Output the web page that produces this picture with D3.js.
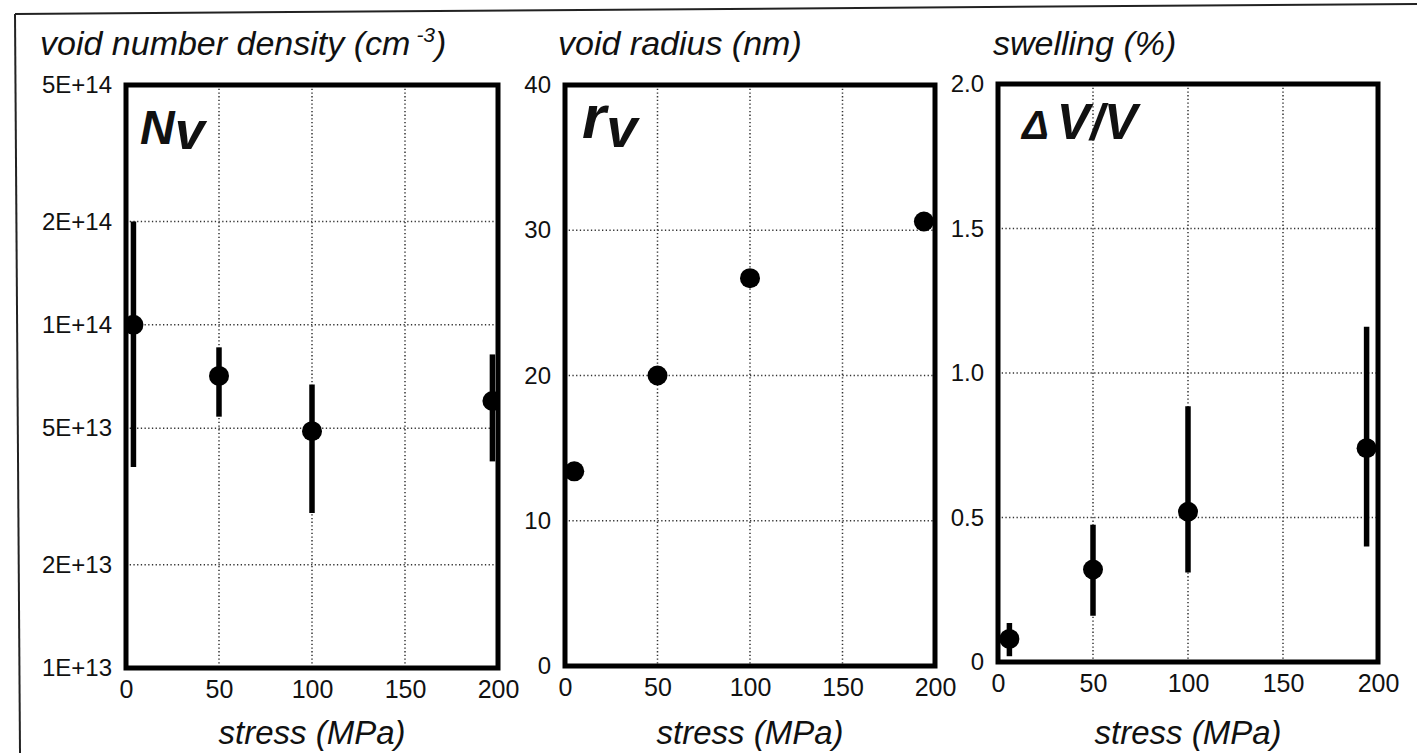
<!DOCTYPE html>
<html><head><meta charset="utf-8">
<script src="https://cdn.jsdelivr.net/npm/d3@7"></script>
<style>
body{margin:0;background:#fff}
svg text{font-family:"Liberation Sans",Arial,Helvetica,sans-serif;fill:#111}
</style>
</head><body><svg id="c" width="1417" height="753"></svg>
<script>
// ---- data ----
const stressTicks = [0, 50, 100, 150, 200];
const stressGrid = [50, 100, 150];

const nvStress = [4, 50, 100, 197];
const nvValue  = [1.0e14, 7.1e13, 4.9e13, 6.0e13];
const nvLow    = [3.85e13, 5.4e13, 2.83e13, 4.0e13];
const nvHigh   = [2.0e14, 8.6e13, 6.7e13, 8.2e13];
const nvTicks  = [1e13, 2e13, 5e13, 1e14, 2e14, 5e14];
const nvTickLabels = ["1E+13", "2E+13", "5E+13", "1E+14", "2E+14", "5E+14"];
const nvGrid   = [2e13, 5e13, 1e14, 2e14];

const rvStress = [5, 50, 100, 194];
const rvValue  = [13.4, 20.0, 26.7, 30.6];
const rvTicks  = [0, 10, 20, 30, 40];
const rvTickLabels = ["0", "10", "20", "30", "40"];
const rvGrid   = [10, 20, 30];

const swStress = [6, 50, 100, 194];
const swValue  = [0.08, 0.32, 0.52, 0.74];
const swLow    = [0.02, 0.16, 0.31, 0.40];
const swHigh   = [0.135, 0.475, 0.885, 1.16];
const swTicks  = [0, 0.5, 1.0, 1.5, 2.0];
const swTickLabels = ["0", "0.5", "1.0", "1.5", "2.0"];
const swGrid   = [0.5, 1.0, 1.5];

const titles = ["void number density (cm", "void radius (nm)", "swelling (%)"];
const xTitle = "stress (MPa)";

// ---- drawing ----
const svg = d3.select("#c");
const FONT = '"Liberation Sans",Arial,Helvetica,sans-serif';

// scanned outer frame (left and top edges)
svg.append("path").attr("d", "M15,14 L1417,4").attr("stroke", "#222").attr("stroke-width", 2).attr("fill", "none");
svg.append("path").attr("d", "M15,14 L20,753").attr("stroke", "#222").attr("stroke-width", 2).attr("fill", "none");

function panel(cfg, idx) {
  const g = svg.append("g");
  const x = d3.scaleLinear().domain([0, 200]).range([cfg.x0, cfg.x1]);
  const y = cfg.y;

  // grid
  g.selectAll(".vg").data(stressGrid).join("line")
    .attr("x1", d => x(d)).attr("x2", d => x(d))
    .attr("y1", cfg.y0).attr("y2", cfg.y1)
    .attr("stroke", "#333").attr("stroke-width", 1.5).attr("stroke-dasharray", "1.3,2.4");
  g.selectAll(".hg").data(cfg.grid).join("line")
    .attr("x1", cfg.x0).attr("x2", cfg.x1)
    .attr("y1", d => y(d)).attr("y2", d => y(d))
    .attr("stroke", "#333").attr("stroke-width", 1.5).attr("stroke-dasharray", "1.3,2.4");

  // clipped marks
  const clipId = "clip" + idx;
  svg.append("clipPath").attr("id", clipId).append("rect")
    .attr("x", cfg.x0).attr("y", cfg.y0).attr("width", cfg.x1 - cfg.x0).attr("height", cfg.y1 - cfg.y0);
  const m = g.append("g").attr("clip-path", `url(#${clipId})`);
  const pts = cfg.xs.map((s, i) => ({s, v: cfg.v[i], lo: cfg.lo ? cfg.lo[i] : null, hi: cfg.hi ? cfg.hi[i] : null}));
  if (cfg.lo) {
    m.selectAll(".eb").data(pts).join("line")
      .attr("x1", d => x(d.s)).attr("x2", d => x(d.s))
      .attr("y1", d => y(d.lo)).attr("y2", d => y(d.hi))
      .attr("stroke", "#000").attr("stroke-width", 5.5);
  }
  m.selectAll(".pt").data(pts).join("circle")
    .attr("cx", d => x(d.s)).attr("cy", d => y(d.v)).attr("r", 10).attr("fill", "#000");

  // frame
  g.append("rect").attr("x", cfg.x0).attr("y", cfg.y0)
    .attr("width", cfg.x1 - cfg.x0).attr("height", cfg.y1 - cfg.y0)
    .attr("fill", "none").attr("stroke", "#000").attr("stroke-width", 5);

  // axes (labels only)
  const ax = g.append("g").attr("transform", `translate(0,${cfg.y1})`)
    .call(d3.axisBottom(x).tickValues(stressTicks).tickSize(0).tickPadding(12).tickFormat(d3.format("d")));
  ax.select(".domain").remove();
  ax.attr("font-family", FONT).attr("font-size", 25);
  ax.selectAll("text").attr("fill", "#000");

  const ay = g.append("g").attr("transform", `translate(${cfg.x0},0)`)
    .call(d3.axisLeft(y).tickValues(cfg.ticks).tickSize(0).tickPadding(14)
      .tickFormat((d, i) => cfg.tickLabels[i]));
  ay.select(".domain").remove();
  ay.attr("font-family", FONT).attr("font-size", 24);
  ay.selectAll("text").attr("fill", "#000");

  // titles
  const t = g.append("text").attr("x", cfg.tx).attr("y", 55)
    .attr("font-size", 34).attr("font-style", "italic").text(titles[idx]);
  if (idx === 0) {
    t.append("tspan").attr("dx", 6).attr("dy", -13).attr("font-size", 21).text("-3");
    t.append("tspan").attr("dy", 13).text(")");
  }
  g.append("text").attr("x", (cfg.x0 + cfg.x1) / 2).attr("y", 744)
    .attr("text-anchor", "middle").attr("font-size", 33).attr("font-style", "italic").text(xTitle);

  cfg.symbol(g);
}

const p1 = {x0: 126, x1: 498, y0: 85, y1: 668, tx: 40,
  y: d3.scaleLog().domain([1e13, 5e14]).range([668, 85]),
  xs: nvStress, v: nvValue, lo: nvLow, hi: nvHigh, ticks: nvTicks, tickLabels: nvTickLabels, grid: nvGrid,
  symbol: g => {
    const t = g.append("text").attr("x", 140).attr("y", 144).attr("font-weight", "bold").attr("font-style", "italic");
    t.append("tspan").attr("font-size", 48).text("N");
    t.append("tspan").attr("font-size", 54).attr("dy", 5).text("v");
  }};
const p2 = {x0: 565, x1: 935, y0: 85, y1: 666, tx: 558,
  y: d3.scaleLinear().domain([0, 40]).range([666, 85]),
  xs: rvStress, v: rvValue, ticks: rvTicks, tickLabels: rvTickLabels, grid: rvGrid,
  symbol: g => {
    const t = g.append("text").attr("x", 582).attr("y", 138).attr("font-weight", "bold").attr("font-style", "italic");
    t.append("tspan").attr("font-size", 62).text("r");
    t.append("tspan").attr("font-size", 56).attr("dy", 9).text("v");
  }};
const p3 = {x0: 998, x1: 1378, y0: 84, y1: 662, tx: 993,
  y: d3.scaleLinear().domain([0, 2]).range([662, 84]),
  xs: swStress, v: swValue, lo: swLow, hi: swHigh, ticks: swTicks, tickLabels: swTickLabels, grid: swGrid,
  symbol: g => {
    const t = g.append("text").attr("x", 1022).attr("y", 139).attr("font-weight", "bold").attr("font-style", "italic");
    t.append("tspan").attr("font-size", 40).text("\u0394");
    t.append("tspan").attr("font-size", 50).attr("dx", 8).text("V/V");
  }};

[p1, p2, p3].forEach(panel);
</script>
</body></html>
